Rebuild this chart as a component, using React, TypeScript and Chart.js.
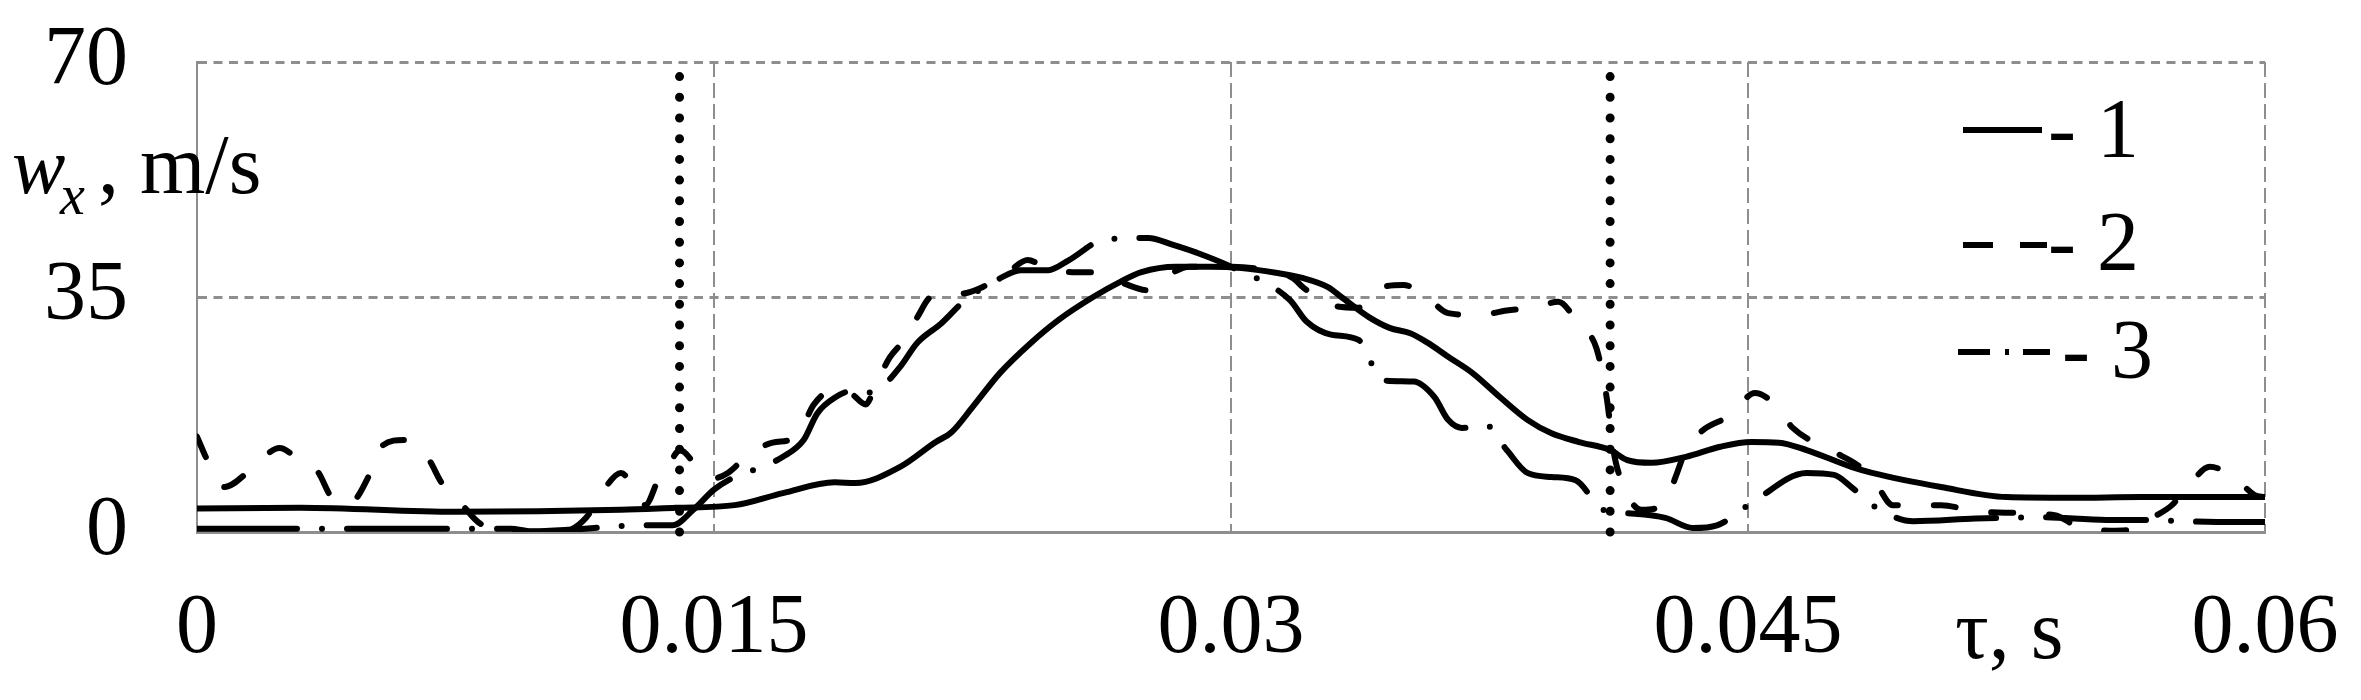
import React, { useEffect, useRef } from 'react';
import { Chart, registerables } from 'chart.js';

Chart.register(...registerables);

// ---------- data ----------
const tau1 = [0, 0.003, 0.0075, 0.0123, 0.0139, 0.0156, 0.017, 0.0185, 0.0191, 0.0204, 0.0214, 0.0219, 0.0225, 0.0233, 0.0242, 0.025, 0.026, 0.0268, 0.0274, 0.0284, 0.0294, 0.0303, 0.0313, 0.0321, 0.0328, 0.0332, 0.034, 0.0346, 0.0352, 0.0357, 0.0363, 0.037, 0.0378, 0.0386, 0.0393, 0.0401, 0.041, 0.0415, 0.0422, 0.0432, 0.0442, 0.0451, 0.0459, 0.0467, 0.048, 0.0486, 0.0506, 0.0525, 0.0544, 0.0564, 0.06];
const w1 = [3.5, 3.6, 3.0, 3.3, 3.6, 4.0, 5.8, 7.4, 7.3, 9.7, 13.3, 14.9, 18.6, 23.7, 28.2, 31.6, 35.0, 37.3, 38.7, 39.5, 39.5, 39.3, 38.6, 37.8, 36.5, 35.0, 32.0, 30.4, 29.6, 28.2, 26.1, 23.7, 20.1, 16.7, 14.7, 13.4, 12.2, 10.7, 10.3, 11.2, 12.7, 13.4, 13.3, 12.2, 9.7, 8.8, 6.7, 5.2, 5.1, 5.2, 5.2];

const tau2 = [0, 0.0003, 0.0008, 0.0015, 0.0024, 0.0029, 0.0035, 0.0039, 0.0044, 0.005, 0.0053, 0.006, 0.0067, 0.0071, 0.0077, 0.0082, 0.0091, 0.0107, 0.0113, 0.0118, 0.0123, 0.013, 0.0134, 0.0138, 0.014, 0.0146, 0.015, 0.0154, 0.016, 0.0167, 0.0174, 0.0179, 0.0184, 0.019, 0.0194, 0.0197, 0.0201, 0.0205, 0.0209, 0.0213, 0.0222, 0.0228, 0.0236, 0.0241, 0.0246, 0.0254, 0.0261, 0.0269, 0.0276, 0.0283, 0.0288, 0.03, 0.031, 0.0318, 0.0321, 0.0329, 0.0337, 0.0342, 0.035, 0.0357, 0.0363, 0.0372, 0.038, 0.0388, 0.0395, 0.0401, 0.0406, 0.0409, 0.0411, 0.0414, 0.0419, 0.0426, 0.0429, 0.0432, 0.0437, 0.0445, 0.0452, 0.0458, 0.0463, 0.0474, 0.0483, 0.0487, 0.0492, 0.0506, 0.0517, 0.0539, 0.0545, 0.0555, 0.0563, 0.0567, 0.0573, 0.0578, 0.0584, 0.0591, 0.0597, 0.06];
const w2 = [14.2, 10.7, 6.7, 9.0, 12.5, 11.0, 9.0, 5.2, 4.2, 8.5, 12.5, 13.7, 11.0, 7.3, 4.0, 1.3, 0.0, 0.2, 2.2, 6.3, 8.8, 4.0, 8.0, 11.0, 12.2, 9.2, 8.0, 8.8, 11.5, 13.3, 14.2, 19.0, 21.0, 20.5, 19.0, 22.0, 26.0, 28.5, 32.0, 35.0, 35.5, 36.5, 39.0, 40.5, 39.5, 38.7, 38.7, 37.0, 36.0, 38.6, 39.5, 39.5, 39.0, 37.8, 36.4, 33.8, 33.4, 36.0, 36.8, 34.9, 32.6, 32.3, 33.0, 33.4, 34.3, 30.8, 27.4, 20.0, 12.0, 6.7, 3.3, 4.3, 8.2, 12.2, 15.2, 17.4, 20.7, 18.9, 15.5, 12.2, 9.5, 7.3, 4.0, 4.0, 3.0, 2.5, 1.0, 0.2, 0.5, 2.0, 4.0, 7.0, 9.7, 8.2, 5.5, 5.2];

const tau3 = [0, 0.004, 0.0091, 0.0097, 0.011, 0.0129, 0.0138, 0.0144, 0.015, 0.0156, 0.0163, 0.017, 0.0176, 0.018, 0.0185, 0.019, 0.0194, 0.0199, 0.0204, 0.0209, 0.0216, 0.0223, 0.0232, 0.0239, 0.0247, 0.0253, 0.0263, 0.0276, 0.0283, 0.029, 0.03, 0.0317, 0.0322, 0.0329, 0.0337, 0.0344, 0.0353, 0.0359, 0.0363, 0.0367, 0.0374, 0.038, 0.0386, 0.0393, 0.04, 0.0408, 0.0415, 0.0426, 0.0434, 0.0441, 0.0451, 0.0467, 0.0475, 0.048, 0.0487, 0.0498, 0.0516, 0.0535, 0.0554, 0.0562, 0.0586, 0.06];
const w3 = [0.5, 0.5, 0.5, 0.1, 0.4, 1.0, 1.0, 3.3, 6.3, 8.2, 9.5, 11.2, 13.7, 17.7, 20.0, 21.0, 20.7, 21.8, 24.6, 28.2, 31.1, 34.6, 37.5, 39.0, 39.0, 40.5, 43.5, 43.8, 42.8, 41.6, 39.5, 34.6, 31.3, 29.4, 28.6, 22.6, 22.4, 20.1, 16.7, 15.5, 15.9, 12.2, 8.8, 8.2, 7.7, 3.3, 2.8, 2.1, 0.6, 1.0, 4.3, 8.8, 8.5, 6.7, 3.7, 1.6, 2.0, 2.2, 1.8, 1.8, 1.5, 1.5];

const markerTimes = [0.014, 0.041];
const markerRange = [0, 68];

const xTickValues = [0, 0.015, 0.03, 0.045, 0.06];
const xTickLabels = ['0', '0.015', '0.03', '0.045', '0.06'];
const yTickValues = [0, 35, 70];
const yTickLabels = ['0', '35', '70'];
const legendLabels = ['1', '2', '3'];

// ---------- styles ----------
const FONT = '"Liberation Serif", "Times New Roman", serif';
const GRID = '#8e8e8e';
const seriesDash = [[], [22, 36], [100, 25, 0, 25]];
const legendDash = [[], [30, 27], [32, 15, 4, 14]];

const toPoints = (xs: number[], ys: number[]) => xs.map((x, i) => ({ x, y: ys[i] }));

const zeroPad = (s: any) => {
  s.paddingTop = 0;
  s.paddingBottom = 0;
  s.paddingLeft = 0;
  s.paddingRight = 0;
};

const decorPlugin = {
  id: 'decor',
  afterDraw(chart: any) {
    const ctx = chart.ctx as CanvasRenderingContext2D;
    ctx.save();
    ctx.fillStyle = '#000';
    ctx.textAlign = 'left';
    ctx.textBaseline = 'alphabetic';
    // y axis title
    ctx.font = `italic 80px ${FONT}`;
    ctx.fillText('w', 12, 193);
    ctx.font = `italic 56px ${FONT}`;
    ctx.fillText('x', 60, 214);
    ctx.font = `84px ${FONT}`;
    ctx.fillText(', m/s', 98, 193);
    // x axis title
    ctx.fillText('τ, s', 1955, 658);
    // legend
    const entries = [
      { y: 130, x0: 1963, x1: 2042, tx: 2048, base: 157 },
      { y: 245, x0: 1963, x1: 2047, tx: 2048, base: 270 },
      { y: 352, x0: 1958, x1: 2050, tx: 2062, base: 378 },
    ];
    entries.forEach((e, i) => {
      ctx.save();
      ctx.strokeStyle = '#000';
      ctx.lineWidth = 6;
      ctx.lineCap = 'butt';
      ctx.setLineDash(legendDash[i]);
      ctx.beginPath();
      ctx.moveTo(e.x0, e.y);
      ctx.lineTo(e.x1, e.y);
      ctx.stroke();
      ctx.restore();
      ctx.font = `84px ${FONT}`;
      ctx.fillText('- ' + legendLabels[i], e.tx, e.base);
    });
    ctx.restore();
  },
};

export default function App() {
  const ref = useRef<HTMLCanvasElement>(null);

  useEffect(() => {
    document.body.style.margin = '0';
    const seriesStyle = (i: number) => ({
      borderColor: '#000',
      borderWidth: 6,
      borderDash: seriesDash[i],
      borderCapStyle: 'round',
      borderJoinStyle: 'round',
      pointRadius: 0,
      cubicInterpolationMode: 'monotone',
      fill: false,
    });
    const datasets: any[] = [
      { label: legendLabels[0], data: toPoints(tau1, w1), ...seriesStyle(0) },
      { label: legendLabels[1], data: toPoints(tau2, w2), ...seriesStyle(1) },
      { label: legendLabels[2], data: toPoints(tau3, w3), ...seriesStyle(2) },
      ...markerTimes.map((t) => ({
        label: 'marker',
        data: markerRange.map((y) => ({ x: t, y })),
        borderColor: '#000',
        borderWidth: 9,
        borderDash: [0, 20.7],
        borderCapStyle: 'round',
        pointRadius: 0,
        clip: false,
        fill: false,
      })),
    ];

    const chart = new Chart(ref.current!, {
      type: 'line',
      data: { datasets },
      options: {
        animation: false,
        responsive: false,
        maintainAspectRatio: false,
        devicePixelRatio: 1,
        events: [],
        layout: { padding: { top: 62, right: 96, bottom: 0, left: 0 } },
        plugins: { legend: { display: false }, tooltip: { enabled: false } },
        scales: {
          x: {
            type: 'linear',
            min: 0,
            max: 0.06,
            afterBuildTicks: (s: any) => {
              s.ticks = xTickValues.map((v) => ({ value: v }));
            },
            afterFit: (s: any) => {
              s.height = 168;
              zeroPad(s);
            },
            ticks: {
              callback: (_v: any, i: number) => xTickLabels[i],
              font: { family: FONT, size: 84 },
              color: '#000',
              padding: 48,
              maxRotation: 0,
              autoSkip: false,
            },
            grid: {
              color: (c: any) => (c.tick && c.tick.value === 0 ? 'rgba(0,0,0,0)' : GRID),
              lineWidth: 2,
              drawTicks: false,
            },
            border: { display: true, color: GRID, width: 3, dash: [15, 6] },
          },
          y: {
            type: 'linear',
            min: 0,
            max: 70,
            afterBuildTicks: (s: any) => {
              s.ticks = yTickValues.map((v) => ({ value: v }));
            },
            afterFit: (s: any) => {
              s.width = 197;
              zeroPad(s);
            },
            ticks: {
              callback: (_v: any, i: number) => yTickLabels[i],
              font: { family: FONT, size: 84 },
              color: '#000',
              padding: 69,
              autoSkip: false,
            },
            grid: {
              color: (c: any) => (c.tick && c.tick.value === 0 ? 'rgba(0,0,0,0)' : GRID),
              lineWidth: 3,
              drawTicks: false,
            },
            border: { display: true, color: GRID, width: 2, dash: [9, 6.5] },
          },
        },
      } as any,
      plugins: [decorPlugin],
    });
    return () => chart.destroy();
  }, []);

  return (
    <div style={{ width: 2361, height: 700, background: '#fff' }}>
      <canvas ref={ref} width={2361} height={700} style={{ display: 'block' }} />
    </div>
  );
}
